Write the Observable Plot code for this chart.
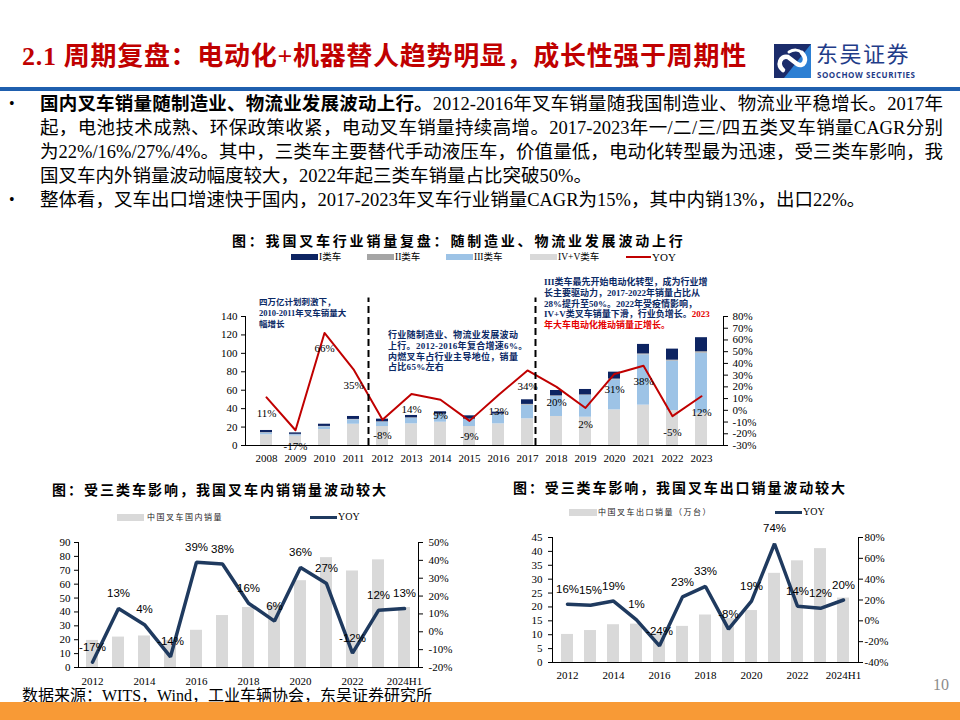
<!DOCTYPE html>
<html><head><meta charset="utf-8">
<script src="https://cdn.jsdelivr.net/npm/d3@7"></script>
<script src="https://cdn.jsdelivr.net/npm/@observablehq/plot@0.6"></script>
<style>
body{margin:0;background:#fff;}
#page{position:relative;width:960px;height:720px;overflow:hidden;background:#fff;font-family:"Liberation Serif","Noto Sans CJK SC",serif;color:#000;}
.abs{position:absolute;white-space:nowrap;}
.cjk{font-family:"Liberation Serif","Noto Sans CJK SC",serif;}
.just{text-align:justify;text-align-last:justify;}
</style></head><body><div id="page"></div>
<script>
// ---------------- data ----------------
const years = ["2008","2009","2010","2011","2012","2013","2014","2015","2016","2017","2018","2019","2020","2021","2022","2023"];
const seriesNames = ["IV+V类车","III类车","II类车","I类车"];
const classI   = [2.3, 1.6, 2.4, 3.2, 2.9, 2.6, 2.6, 3.6, 2.1, 5.0, 5.8, 5.9, 7.5, 10.3, 12.0, 15.2];
const classII  = [0.4, 0.3, 0.4, 0.4, 0.4, 0.4, 0.4, 0.4, 0.5, 0.8, 0.7, 0.6, 0.8, 1.0, 1.0, 1.6];
const classIII = [2.0, 1.5, 2.9, 4.8, 4.7, 6.1, 8.3, 7.6, 10.1, 14.8, 21.7, 23.6, 32.6, 54.6, 53.6, 65.2];
const classIVV = [11.6, 10.3, 17.4, 23.1, 20.6, 23.5, 25.3, 20.6, 23.5, 29.0, 31.5, 30.7, 38.7, 43.8, 38.0, 35.0];
const yoyTotal = [11, -17, 66, 35, -8, 14, 9, -9, 13, 34, 20, 2, 31, 38, -5, 12];
const topLeftTicks = [0, 20, 40, 60, 80, 100, 120, 140];
const topRightTicks = [-30, -20, -10, 0, 10, 20, 30, 40, 50, 60, 70, 80];
const dividerYears = ["2011", "2017"];

const years2 = ["2012","2013","2014","2015","2016","2017","2018","2019","2020","2021","2022","2023","2024H1"];
const bottomTickYears = ["2012","2014","2016","2018","2020","2022","2024H1"];
const domesticSales = [19.5, 21.9, 22.7, 19.6, 26.8, 37.4, 43.2, 45.0, 62.5, 79.1, 69.5, 77.5, 43.2];
const domesticYoy   = [-17, 13, 4, -14, 39, 38, 16, 6, 36, 27, -12, 12, 13];
const domLeftTicks  = [0, 10, 20, 30, 40, 50, 60, 70, 80, 90];
const domRightTicks = [-20, -10, 0, 10, 20, 30, 40, 50];
const exportSales = [10.1, 11.5, 13.6, 13.8, 10.5, 13.0, 17.1, 15.8, 18.7, 32.1, 36.6, 41.0, 23.2];
const exportYoy   = [16, 15, 19, 1, -24, 23, 33, -8, 19, 74, 14, 12, 20];
const expLeftTicks  = [0, 5, 10, 15, 20, 25, 30, 35, 40, 45];
const expRightTicks = [-40, -20, 0, 20, 40, 60, 80];

// ---------------- helpers ----------------
const page = document.getElementById("page");
function put(html, css, cls) {
  const d = document.createElement("div");
  d.className = "abs" + (cls ? " " + cls : "");
  d.innerHTML = html;
  Object.assign(d.style, css);
  page.appendChild(d);
  return d;
}
function box(css) {
  const d = document.createElement("div");
  d.style.position = "absolute";
  Object.assign(d.style, css);
  page.appendChild(d);
}
function place(svg, left, top, w) {
  const d = document.createElement("div");
  d.style.position = "absolute";
  d.style.left = left + "px"; d.style.top = top + "px"; d.style.width = w + "px";
  d.appendChild(svg);
  page.appendChild(d);
}
const mapR = (v, L, R) => L[0] + (v - R[0]) / (R[1] - R[0]) * (L[1] - L[0]);
const unmapR = (d, L, R) => R[0] + (d - L[0]) / (L[1] - L[0]) * (R[1] - R[0]);

// ---------------- header ----------------
put('<span style="font-family:\'Liberation Serif\'">2.1 </span>周期复盘：电动化<span style="font-family:\'Liberation Serif\'">+</span>机器替人趋势明显，成长性强于周期性',
  {left:"22px", top:"42px", lineHeight:"30px", fontSize:"26px", fontWeight:"700", color:"#C00000", letterSpacing:"0.7px"}, "cjk");
// logo
put('<svg width="37" height="34" viewBox="0 0 37 34"><rect width="37" height="34" fill="#1b2c6b"/><path d="M37 0 L37 34 L10 34 Z" fill="#2c7fd3"/><path d="M9 26 C3 21 6 11 14 13 L23 20 C30 24 34 15 28 9" stroke="#fff" stroke-width="4.5" fill="none" stroke-linecap="round"/><path d="M15 8 C20 5 25 6 27 8" stroke="#fff" stroke-width="3" fill="none" stroke-linecap="round"/></svg>',
  {left:"774px", top:"44px", lineHeight:"0"});
put('东吴证券', {left:"816px", top:"40px", fontSize:"22px", lineHeight:"24px", color:"#1f3c88", fontFamily:"'Noto Sans CJK SC'", letterSpacing:"1.5px"});
put('SOOCHOW SECURITIES', {left:"817px", top:"70px", fontSize:"8px", lineHeight:"10px", fontWeight:"700", color:"#1f3c88", letterSpacing:"0.55px", fontFamily:"'Open Sans','DejaVu Sans',sans-serif"});
box({left:"0px", top:"87px", width:"960px", height:"4px", background:"#1f5fae"});

// ---------------- body text ----------------
const bodyCss = (i) => ({left:"40px", top:(92 + 24 * i) + "px", width:"903px", fontSize:"18.5px", lineHeight:"24px"});
put('<b>国内叉车销量随制造业、物流业发展波动上行。</b>2012-2016年叉车销量随我国制造业、物流业平稳增长。2017年', bodyCss(0), "cjk just");
put('起，电池技术成熟、环保政策收紧，电动叉车销量持续高增。2017-2023年一/二/三/四五类叉车销量CAGR分别', bodyCss(1), "cjk just");
put('为22%/16%/27%/4%。其中，三类车主要替代手动液压车，价值量低，电动化转型最为迅速，受三类车影响，我', bodyCss(2), "cjk just");
put('国叉车内外销量波动幅度较大，2022年起三类车销量占比突破50%。', bodyCss(3), "cjk");
put('整体看，叉车出口增速快于国内，2017-2023年叉车行业销量CAGR为15%，其中内销13%，出口22%。', bodyCss(4), "cjk");
put('•', {left:"9px", top:"92px", fontSize:"16px", lineHeight:"24px"});
put('•', {left:"9px", top:"188px", fontSize:"16px", lineHeight:"24px"});

// ---------------- top chart ----------------
put('图：我国叉车行业销量复盘：随制造业、物流业发展波动上行', {left:"232px", top:"230px", fontSize:"14px", lineHeight:"20px", fontWeight:"700", letterSpacing:"2.8px", fontFamily:"'Noto Sans CJK SC'"});
const topColors = {"I类车":"#0d2462","II类车":"#a5a5a5","III类车":"#9dc3e6","IV+V类车":"#d9d9d9"};
[["I类车",291],["II类车",367],["III类车",446],["IV+V类车",530]].forEach(([n,x]) => {
  box({left:x+"px", top:"254px", width:"27px", height:"6px", background:topColors[n]});
  put(n, {left:(x+28)+"px", top:"250px", fontSize:"9.5px", lineHeight:"14px"}, "cjk");
});
box({left:"626px", top:"256px", width:"25px", height:"2px", background:"#c00000"});
put('YOY', {left:"652px", top:"250px", fontSize:"11px", lineHeight:"14px"});

const topRows = years.flatMap((yr, i) => [
  {year: yr, series: "IV+V类车", value: classIVV[i]},
  {year: yr, series: "III类车", value: classIII[i]},
  {year: yr, series: "II类车", value: classII[i]},
  {year: yr, series: "I类车", value: classI[i]}
]);
const TOP_L = [0, 140], TOP_R = [-30, 80];
const topYoy = years.map((yr, i) => ({year: yr, v: mapR(yoyTotal[i], TOP_L, TOP_R), label: yoyTotal[i] + "%"}));
const topChart = Plot.plot({
  width: 570, height: 185, marginLeft: 50, marginRight: 42, marginTop: 26, marginBottom: 30,
  style: {background: "transparent", fontFamily: "'Liberation Serif',serif", fontSize: "11px", color: "#000", overflow: "visible"},
  x: {type: "band", domain: years, paddingInner: 0.58, paddingOuter: 0.29, label: null},
  y: {domain: TOP_L, label: null},
  color: {type: "ordinal", domain: seriesNames, range: seriesNames.map(n => topColors[n])},
  marks: [
    Plot.barY(topRows, {x: "year", y: "value", fill: "series"}),
    Plot.line(topYoy, {x: "year", y: "v", stroke: "#c00000", strokeWidth: 2}),
    Plot.text(topYoy, {x: "year", y: "v", text: "label", dy: 16, fill: "#000"}),
    Plot.ruleX([dividerYears[0]], {y1: 0, y2: 160, dx: 15, stroke: "#000", strokeWidth: 2, strokeDasharray: "7,4"}),
    Plot.ruleX([dividerYears[1]], {y1: 0, y2: 160, dx: 8, stroke: "#000", strokeWidth: 2, strokeDasharray: "7,4"}),
    Plot.frame({anchor: "left"}),
    Plot.frame({anchor: "right"}),
    Plot.frame({anchor: "bottom"}),
    Plot.axisY(topLeftTicks, {tickSize: 4, tickPadding: 4, label: null}),
    Plot.axisY(topRightTicks.map(v => mapR(v, TOP_L, TOP_R)), {anchor: "right", tickSize: 4, tickPadding: 5, label: null, tickFormat: d => Math.round(unmapR(d, TOP_L, TOP_R)) + "%"}),
    Plot.axisX({tickSize: 0, tickPadding: 9, label: null})
  ]
});
place(topChart, 195, 290, 570);

// annotations
const navy = "#0b2a66";
put('四万亿计划刺激下，<br>2010-2011年叉车销量大<br>幅增长', {left:"259px", top:"297px", fontSize:"8.5px", lineHeight:"11px", fontWeight:"700", color:navy}, "cjk");
put('行业随制造业、物流业发展波动<br>上行。2012-2016年复合增速6%。<br>内燃叉车占行业主导地位，销量<br>占比65%左右', {left:"388px", top:"330px", fontSize:"9px", lineHeight:"10.8px", fontWeight:"700", letterSpacing:"0.3px", color:navy}, "cjk");
put('III类车最先开始电动化转型，成为行业增<br>长主要驱动力，2017-2022年销量占比从<br>28%提升至50%。2022年受疫情影响，<br>IV+V类叉车销量下滑，行业负增长。<span style="color:#e60000">2023</span><br><span style="color:#e60000">年大车电动化推动销量正增长。</span>', {left:"544px", top:"277px", fontSize:"9px", lineHeight:"10.8px", fontWeight:"700", color:navy}, "cjk");

// ---------------- bottom charts ----------------
function bottomChart({cats, bars, yoy, L, R, lTicks, rTicks, width, height, ml, mr, mt, mb, pi, po, xPad, lPad, rPad}) {
  const rows = cats.map((c, i) => ({cat: c, bar: bars[i], v: mapR(yoy[i], L, R), label: yoy[i] + "%"}));
  return Plot.plot({
    width, height, marginLeft: ml, marginRight: mr, marginTop: mt, marginBottom: mb,
    style: {background: "transparent", fontFamily: "'Liberation Serif',serif", fontSize: "11px", color: "#000", overflow: "visible"},
    x: {type: "band", domain: cats, paddingInner: pi, paddingOuter: po, label: null},
    y: {domain: L, label: null},
    marks: [
      Plot.barY(rows, {x: "cat", y: "bar", fill: "#d9d9d9"}),
      Plot.line(rows, {x: "cat", y: "v", stroke: "#1f3a5f", strokeWidth: 3.5, strokeLinejoin: "miter"}),
      Plot.text(rows, {x: "cat", y: "v", text: "label", dy: -15, fill: "#000", fontFamily: "'Liberation Sans',Arial,sans-serif", fontSize: 11.5}),
      Plot.frame({anchor: "left"}),
      Plot.frame({anchor: "right"}),
      Plot.frame({anchor: "bottom"}),
      Plot.axisY(lTicks, {tickSize: 4, tickPadding: lPad, label: null}),
      Plot.axisY(rTicks.map(v => mapR(v, L, R)), {anchor: "right", tickSize: 4, tickPadding: rPad, label: null, tickFormat: d => Math.round(unmapR(d, L, R)) + "%"}),
      Plot.axisX(bottomTickYears, {tickSize: 0, tickPadding: xPad, label: null})
    ]
  });
}

// left bottom
put('图：受三类车影响，我国叉车内销销量波动较大', {left:"52px", top:"479px", fontSize:"14px", lineHeight:"20px", fontWeight:"700", letterSpacing:"2px", fontFamily:"'Noto Sans CJK SC'"});
box({left:"117px", top:"514px", width:"27px", height:"7px", background:"#d9d9d9"});
put('中国叉车国内销量', {left:"147px", top:"510px", fontSize:"8px", lineHeight:"14px", letterSpacing:"1.5px", fontFamily:"'Noto Sans CJK SC'", color:"#222"});
box({left:"310px", top:"516px", width:"27px", height:"3px", background:"#1f3a5f"});
put('YOY', {left:"338px", top:"510px", fontSize:"10px", lineHeight:"14px"});
place(bottomChart({cats: years2, bars: domesticSales, yoy: domesticYoy, L: [0, 90], R: [-20, 50], lTicks: domLeftTicks, rTicks: domRightTicks,
  width: 440, height: 165, ml: 48, mr: 52, mt: 17, mb: 23, pi: 0.54, po: 0.27, xPad: 10, lPad: 4, rPad: 6}), 30, 525, 440);

// right bottom
put('图：受三类车影响，我国叉车出口销量波动较大', {left:"513px", top:"477px", fontSize:"14px", lineHeight:"20px", fontWeight:"700", letterSpacing:"1.9px", fontFamily:"'Noto Sans CJK SC'"});
box({left:"569px", top:"509px", width:"28px", height:"7px", background:"#d9d9d9"});
put('中国叉车出口销量（万台）', {left:"598px", top:"505px", fontSize:"8px", lineHeight:"14px", letterSpacing:"1.5px", fontFamily:"'Noto Sans CJK SC'", color:"#222"});
box({left:"775px", top:"511px", width:"27px", height:"3px", background:"#1f3a5f"});
put('YOY', {left:"803px", top:"505px", fontSize:"10px", lineHeight:"14px"});
place(bottomChart({cats: years2, bars: exportSales, yoy: exportYoy, L: [0, 45], R: [-40, 80], lTicks: expLeftTicks, rTicks: expRightTicks,
  width: 400, height: 165, ml: 47, mr: 47, mt: 17, mb: 23, pi: 0.48, po: 0.24, xPad: 9, lPad: 6, rPad: 2}), 505, 520, 400);

// ---------------- footer ----------------
put('数据来源：WITS，Wind，工业车辆协会，东吴证券研究所', {left:"22px", top:"686px", fontSize:"16px", lineHeight:"20px"}, "cjk");
put('10', {left:"933px", top:"676px", fontSize:"16px", lineHeight:"18px", color:"#8c8c8c"});
box({left:"0px", top:"702px", width:"960px", height:"18px", background:"#f89a36"});
</script></body></html>
